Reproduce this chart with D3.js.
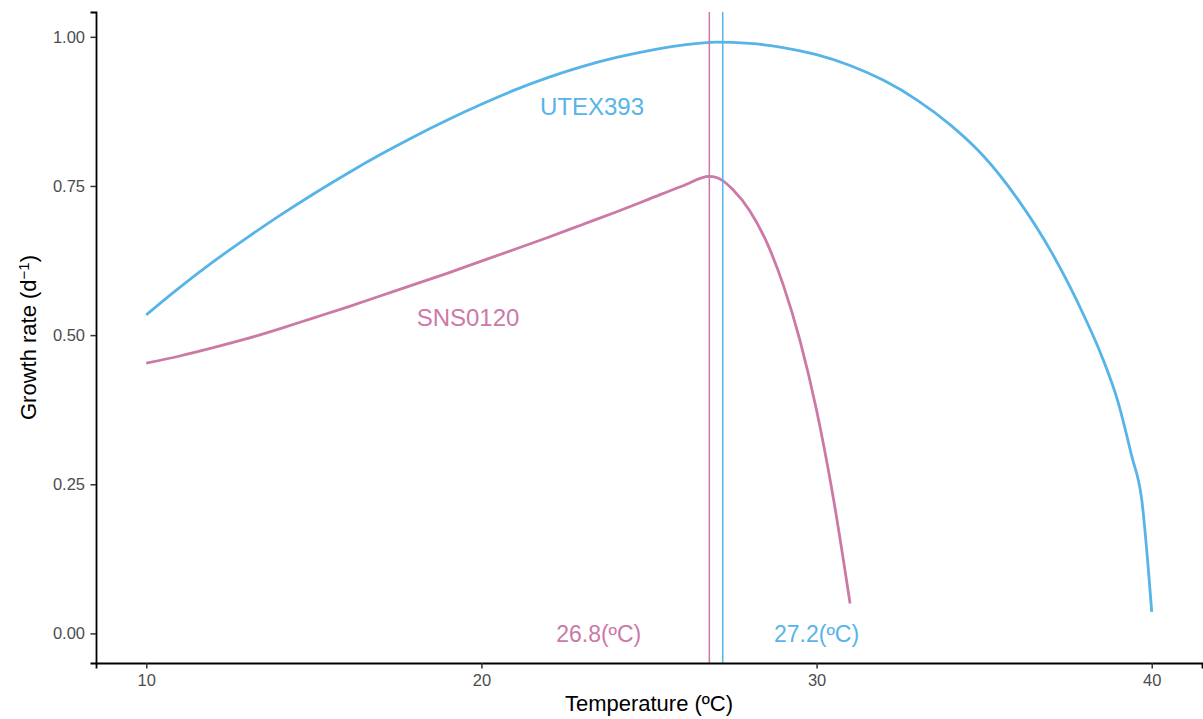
<!DOCTYPE html>
<html>
<head>
<meta charset="utf-8">
<script src="https://cdn.jsdelivr.net/npm/d3@7"></script>
<style>
  body { margin: 0; background: #fff; }
  svg { display: block; font-family: "Liberation Sans", Arial, sans-serif; }
</style>
</head>
<body>
<div id="chart"></div>
<script>
'use strict'

// values
const utexTemp = [10, 11, 12, 13, 14, 15, 16, 17, 18, 19, 20, 21, 22, 23, 24, 25, 26, 27, 28, 29, 30, 31, 32, 33, 34, 35, 36, 37, 38, 38.5, 39, 39.4, 39.7, 40]
const utexRate = [0.534, 0.580, 0.623, 0.663, 0.701, 0.737, 0.771, 0.803, 0.833, 0.861, 0.887, 0.911, 0.932, 0.950, 0.965, 0.977, 0.986, 0.991, 0.989, 0.982, 0.970, 0.952, 0.927, 0.894, 0.852, 0.799, 0.728, 0.640, 0.530, 0.466, 0.387, 0.298, 0.225, 0.036]

const snsTemp = [10, 11, 12, 13, 14, 15, 16, 17, 18, 19, 20, 21, 22, 23, 24, 25, 26, 26.8, 27.2, 27.5, 28, 28.5, 29, 29.5, 30, 30.5, 31]
const snsRate = [0.453, 0.465, 0.479, 0.494, 0.511, 0.529, 0.547, 0.566, 0.585, 0.604, 0.624, 0.644, 0.664, 0.685, 0.706, 0.728, 0.750, 0.766, 0.759, 0.744, 0.709, 0.657, 0.585, 0.492, 0.374, 0.227, 0.050]

const strains = ['UTEX393', 'SNS0120']
const strainColors = ['#56B4E9', '#CC79A7']
const optimumTemp = [27.2, 26.8]
const labelPos = [[23.3, 0.883], [19.6, 0.529]]
const optimumLabelX = [30.0, 23.5]

const xTicks = [10, 20, 30, 40]
const yTicks = [0, 0.25, 0.5, 0.75, 1]

const width = 1203
const height = 719
const margin = { top: 12, right: 1, bottom: 56, left: 96 }

const svg = d3.select('#chart').append('svg')
  .attr('width', width)
  .attr('height', height)

const x = d3.scaleLinear()
  .domain([8.5, 41.5])
  .range([margin.left, width - margin.right])

const y = d3.scaleLinear()
  .domain([-0.0496, 1.0416])
  .range([height - margin.bottom, margin.top])

const series = [
  utexTemp.map((t, i) => [t, utexRate[i]]),
  snsTemp.map((t, i) => [t, snsRate[i]])
]

const line = d3.line()
  .x(d => x(d[0]))
  .y(d => y(d[1]))
  .curve(d3.curveMonotoneX)

const plot = svg.append('g')

// curves, SNS drawn first like the reference
;[1, 0].forEach(i => {
  plot.append('path')
    .datum(series[i])
    .attr('fill', 'none')
    .attr('stroke', strainColors[i])
    .attr('stroke-width', 2.8)
    .attr('stroke-linejoin', 'round')
    .attr('d', line)
})

// optimum temperature lines
;[1, 0].forEach(i => {
  plot.append('line')
    .attr('x1', x(optimumTemp[i]))
    .attr('x2', x(optimumTemp[i]))
    .attr('y1', margin.top)
    .attr('y2', height - margin.bottom)
    .attr('stroke', strainColors[i])
    .attr('stroke-width', 1.5)
})

// strain names
strains.forEach((s, i) => {
  plot.append('text')
    .attr('x', x(labelPos[i][0]))
    .attr('y', y(labelPos[i][1]))
    .attr('dy', '0.36em')
    .attr('text-anchor', 'middle')
    .attr('fill', strainColors[i])
    .style('font-size', '24px')
    .text(s)
})

// optimum labels
optimumTemp.forEach((t, i) => {
  plot.append('text')
    .attr('x', x(optimumLabelX[i]))
    .attr('y', y(0))
    .attr('dy', '0.36em')
    .attr('text-anchor', 'middle')
    .attr('fill', strainColors[i])
    .style('font-size', '23px')
    .text(t.toFixed(1) + '(ºC)')
})

// axes
const xAxis = d3.axisBottom(x)
  .tickValues(xTicks)
  .tickFormat(d3.format('d'))
  .tickSize(5.5)
  .tickPadding(6)

const yAxis = d3.axisLeft(y)
  .tickValues(yTicks)
  .tickFormat(d3.format('.2f'))
  .tickSize(5.5)
  .tickPadding(5.5)

const gX = svg.append('g')
  .attr('transform', `translate(0,${height - margin.bottom})`)
  .call(xAxis)

const gY = svg.append('g')
  .attr('transform', `translate(${margin.left},0)`)
  .call(yAxis)

;[gX, gY].forEach(g => {
  g.select('.domain').attr('stroke', '#000').attr('stroke-width', 1.8)
  g.selectAll('.tick line').attr('stroke', '#333').attr('stroke-width', 1.5)
  g.selectAll('.tick text')
    .attr('fill', '#4D4D4D')
    .style('font-size', '16.5px')
    .style('font-family', '"Liberation Sans", Arial, sans-serif')
})

// axis titles
svg.append('text')
  .attr('x', (margin.left + width - margin.right) / 2)
  .attr('y', 711)
  .attr('text-anchor', 'middle')
  .attr('fill', '#000')
  .style('font-size', '22px')
  .text('Temperature (ºC)')

const yTitle = svg.append('text')
  .attr('transform', `translate(36,${(margin.top + height - margin.bottom) / 2}) rotate(-90)`)
  .attr('text-anchor', 'middle')
  .attr('fill', '#000')
  .style('font-size', '22px')

yTitle.append('tspan').text('Growth rate (d')
yTitle.append('tspan')
  .attr('dy', '-0.45em')
  .style('font-size', '15px')
  .text('−1')
yTitle.append('tspan')
  .attr('dy', '0.3em')
  .text(')')
</script>
</body>
</html>
